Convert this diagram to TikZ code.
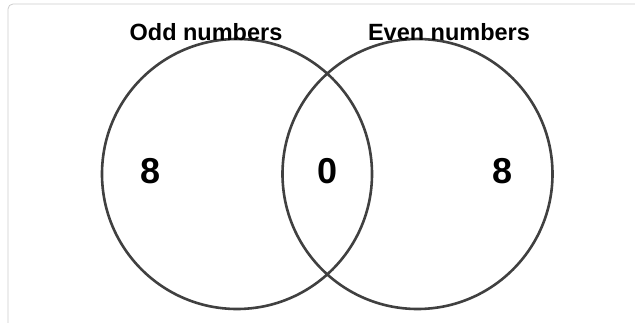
\documentclass[tikz,border=0pt]{standalone}
\usepackage{fontspec}
\setmainfont{Liberation Sans}
\usepackage{xcolor}
\definecolor{ringgray}{HTML}{404040}
\definecolor{framegray}{HTML}{CCCCCC}

\tikzset{
  ring/.style={draw=ringgray, line width=2.6pt},
  settitle/.style={font=\bfseries\fontsize{23.5}{26}\selectfont, inner sep=0pt},
  count/.style={font=\bfseries\fontsize{36}{40}\selectfont, inner sep=0pt}
}

\begin{document}
\begin{tikzpicture}[x=1pt,y=1pt]
\useasboundingbox (0,0) rectangle (635,322);
\clip (0,0) rectangle (635,322);
\draw[framegray, line width=0.8pt, rounded corners=5pt] (8,318) rectangle (650,-10);
% the two sets
\draw[ring] (237,148) circle (135);
\draw[ring] (417.5,148) circle (135);
% set names
\node[settitle] (oddname) at (206,290) {Odd numbers};
\node[settitle] (evenname) at (449,290) {Even numbers};
% counts
\node[count] (oddonly) at (151,151) {8};
\node[count] (both) at (327.5,151) {0};
\node[count] (evenonly) at (503,151) {8};
\end{tikzpicture}
\end{document}
